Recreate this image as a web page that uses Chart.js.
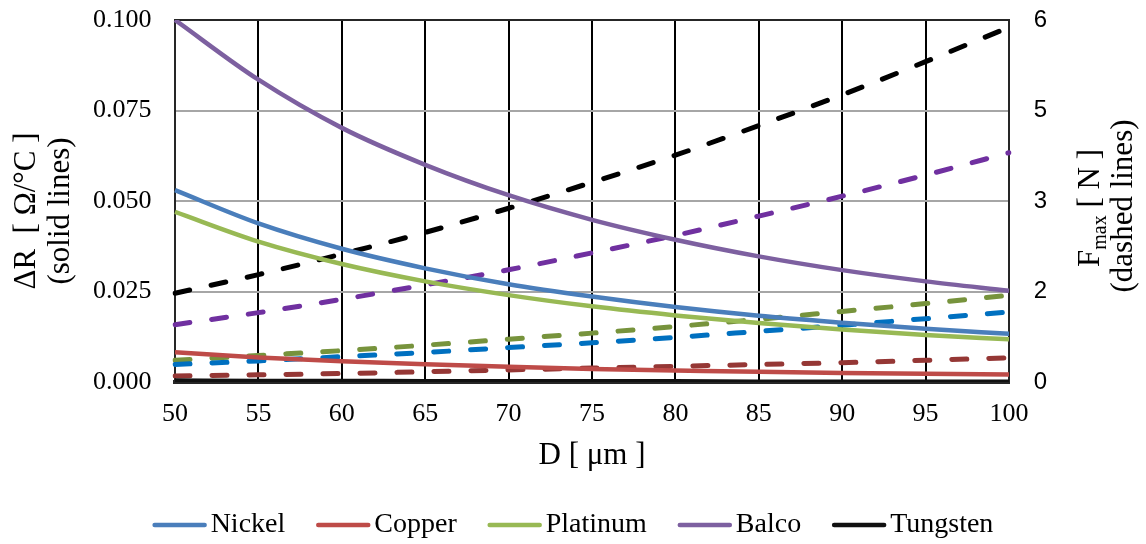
<!DOCTYPE html>
<html>
<head>
<meta charset="utf-8">
<title>Wire diameter: ΔR and Fmax</title>
<script src="https://cdn.jsdelivr.net/npm/chart.js@4.4.1/dist/chart.umd.min.js"></script>
<style>
  html, body { margin: 0; padding: 0; background: #fff; }
</style>
</head>
<body>
<canvas id="wireChart" width="1146" height="544"></canvas>
<script>
// Wire diameter D [um]
const D_VALUES = [50, 55, 60, 65, 70, 75, 80, 85, 90, 95, 100];
const WIRE_NAMES = ['Nickel', 'Copper', 'Platinum', 'Balco', 'Tungsten'];

// Resistance change per degree, Ohm/°C (solid lines, left axis)
const DR_NICKEL   = [0.0530, 0.0438, 0.0368, 0.0314, 0.0270, 0.0236, 0.0207, 0.0183, 0.0164, 0.0147, 0.0133];
const DR_COPPER   = [0.0082, 0.0068, 0.0057, 0.0049, 0.0042, 0.0036, 0.0032, 0.0028, 0.0025, 0.0023, 0.0021];
const DR_PLATINUM = [0.0470, 0.0388, 0.0326, 0.0278, 0.0240, 0.0209, 0.0184, 0.0163, 0.0145, 0.0130, 0.0118];
const DR_BALCO    = [0.1000, 0.0835, 0.0702, 0.0600, 0.0516, 0.0448, 0.0393, 0.0347, 0.0309, 0.0278, 0.0252];
const DR_TUNGSTEN = [0.0004, 0.0003, 0.0003, 0.0002, 0.0002, 0.0002, 0.0002, 0.0001, 0.0001, 0.0001, 0.0001];

// Max force, N (dashed lines, right axis)
const F_NICKEL   = [0.29, 0.35, 0.42, 0.49, 0.57, 0.65, 0.74, 0.84, 0.94, 1.05, 1.16];
const F_COPPER   = [0.10, 0.12, 0.14, 0.17, 0.20, 0.23, 0.26, 0.29, 0.32, 0.36, 0.40];
const F_PLATINUM = [0.36, 0.44, 0.52, 0.61, 0.71, 0.81, 0.92, 1.04, 1.17, 1.30, 1.44];
const F_BALCO    = [0.95, 1.15, 1.37, 1.61, 1.86, 2.14, 2.43, 2.75, 3.08, 3.43, 3.80];
const F_TUNGSTEN = [1.47, 1.78, 2.12, 2.48, 2.88, 3.31, 3.76, 4.25, 4.76, 5.31, 5.88];

// Axis ticks
const DR_TICKS = [0, 0.025, 0.05, 0.075, 0.1];
const F_TICKS = [0, 1.5, 3, 4.5, 6];

const SOLID_COLORS = ['#4A7EBB', '#BE4B48', '#98B954', '#7D60A0', '#111111'];
const DASH_COLORS  = ['#0070C0', '#953735', '#77933C', '#7030A0', '#000000'];

const SERIF = '"Liberation Serif", "Times New Roman", serif';
const SANS = '"Liberation Sans", Arial, sans-serif';

const drSeries = [DR_NICKEL, DR_COPPER, DR_PLATINUM, DR_BALCO, DR_TUNGSTEN];
const fSeries = [F_NICKEL, F_COPPER, F_PLATINUM, F_BALCO, F_TUNGSTEN];

const solidSets = WIRE_NAMES.map((name, i) => ({
  label: name,
  data: drSeries[i],
  yAxisID: 'y',
  borderColor: SOLID_COLORS[i],
  backgroundColor: SOLID_COLORS[i],
  borderWidth: 4.5,
  pointRadius: 0,
  cubicInterpolationMode: 'monotone',
  fill: false
}));

const dashedSets = WIRE_NAMES.map((name, i) => ({
  label: name + ' Fmax',
  data: fSeries[i],
  yAxisID: 'y2',
  borderColor: DASH_COLORS[i],
  backgroundColor: DASH_COLORS[i],
  borderWidth: 5,
  borderDash: [15, 22],
  borderCapStyle: 'round',
  pointRadius: 0,
  cubicInterpolationMode: 'monotone',
  fill: false
}));

// rotated axis titles, right one has the "max" subscript
const sideTitles = {
  id: 'sideTitles',
  afterDraw(chart) {
    const ctx = chart.ctx;
    const mid = (chart.chartArea.top + chart.chartArea.bottom) / 2 + 10;
    const big = '31px ' + SERIF;
    const small = '20px ' + SERIF;

    const rotated = (text, x, y) => {
      ctx.save();
      ctx.translate(x, y);
      ctx.rotate(-Math.PI / 2);
      ctx.font = big;
      ctx.textAlign = 'center';
      ctx.textBaseline = 'middle';
      ctx.fillText(text, 0, 0);
      ctx.restore();
    };

    ctx.save();
    ctx.fillStyle = '#000';
    rotated('ΔR  [ Ω/°C ]', 27, mid);
    rotated('(solid lines)', 61, mid);

    // F_max [ N ]
    ctx.save();
    ctx.translate(1088, mid - 3);
    ctx.rotate(-Math.PI / 2);
    ctx.textBaseline = 'alphabetic';
    ctx.textAlign = 'left';
    ctx.font = big;
    const wF = ctx.measureText('F').width;
    const wRest = ctx.measureText(' [ N ]').width;
    ctx.font = small;
    const wSub = ctx.measureText('max').width;
    let x = -(wF + wSub + wRest) / 2;
    ctx.font = big;
    ctx.fillText('F', x, 10.5);
    x += wF;
    ctx.font = small;
    ctx.fillText('max', x, 17.5);
    x += wSub;
    ctx.font = big;
    ctx.fillText(' [ N ]', x, 10.5);
    ctx.restore();

    rotated('(dashed lines)', 1124, mid - 5);
    ctx.restore();
  }
};

// legend for the solid series, drawn under the x title
const bottomLegend = {
  id: 'bottomLegend',
  afterDraw(chart) {
    const ctx = chart.ctx;
    const lineLen = 54, gap = 4, spacing = 31, y = 525;
    ctx.save();
    ctx.font = '28px ' + SERIF;
    const items = WIRE_NAMES.map((name, i) => ({
      name, color: SOLID_COLORS[i], w: ctx.measureText(name).width
    }));
    const total = items.reduce((s, it) => s + lineLen + gap + it.w, 0) + spacing * (items.length - 1);
    let x = (chart.width - total) / 2;
    items.forEach(it => {
      ctx.strokeStyle = it.color;
      ctx.lineWidth = 4.5;
      ctx.lineCap = 'round';
      ctx.beginPath();
      ctx.moveTo(x + 2, y);
      ctx.lineTo(x + lineLen - 2, y);
      ctx.stroke();
      ctx.fillStyle = '#000';
      ctx.textBaseline = 'middle';
      ctx.fillText(it.name, x + lineLen + gap, y);
      x += lineLen + gap + it.w + spacing;
    });
    ctx.restore();
  }
};

new Chart(document.getElementById('wireChart').getContext('2d'), {
  type: 'line',
  data: {
    labels: D_VALUES,
    datasets: [...solidSets, ...dashedSets]
  },
  options: {
    responsive: false,
    animation: false,
    // side paddings hold the rotated titles; tick labels sit against them
    layout: { padding: { top: 20, bottom: 62, left: 93, right: 99 } },
    plugins: {
      legend: { display: false },
      tooltip: { enabled: false }
    },
    scales: {
      x: {
        grid: { color: '#000', lineWidth: 2, drawTicks: false },
        border: { display: true, color: '#262626', width: 4 },
        ticks: {
          color: '#000',
          font: { family: SERIF, size: 26 },
          padding: 17,
          maxRotation: 0,
          autoSkip: false
        },
        title: {
          display: true,
          text: 'D [ μm ]',
          color: '#000',
          font: { family: SERIF, size: 31 },
          padding: { top: 0, bottom: 8 }
        },
        afterFit: s => { s.height = 100; }
      },
      y: {
        position: 'left',
        min: 0,
        max: 0.1,
        afterBuildTicks: s => { s.ticks = DR_TICKS.map(v => ({ value: v })); },
        ticks: {
          color: '#000',
          font: { family: SERIF, size: 26 },
          padding: 0,
          crossAlign: 'far',
          callback: v => Number(v).toFixed(3)
        },
        grid: {
          color: c => (c.tick && c.tick.value === 0.1 ? '#262626' : '#a6a6a6'),
          lineWidth: 2,
          drawTicks: false
        },
        border: { color: '#262626', width: 2 },
        afterFit: s => { s.width = 82; }
      },
      y2: {
        position: 'right',
        min: 0,
        max: 6,
        afterBuildTicks: s => { s.ticks = F_TICKS.map(v => ({ value: v })); },
        ticks: {
          color: '#000',
          font: { family: SANS, size: 24 },
          padding: 0,
          crossAlign: 'far',
          callback: v => Number(v).toFixed(0)
        },
        grid: { drawOnChartArea: false, drawTicks: false },
        border: { color: '#262626', width: 2 },
        afterFit: s => { s.width = 38; }
      }
    }
  },
  plugins: [sideTitles, bottomLegend]
});
</script>
</body>
</html>
